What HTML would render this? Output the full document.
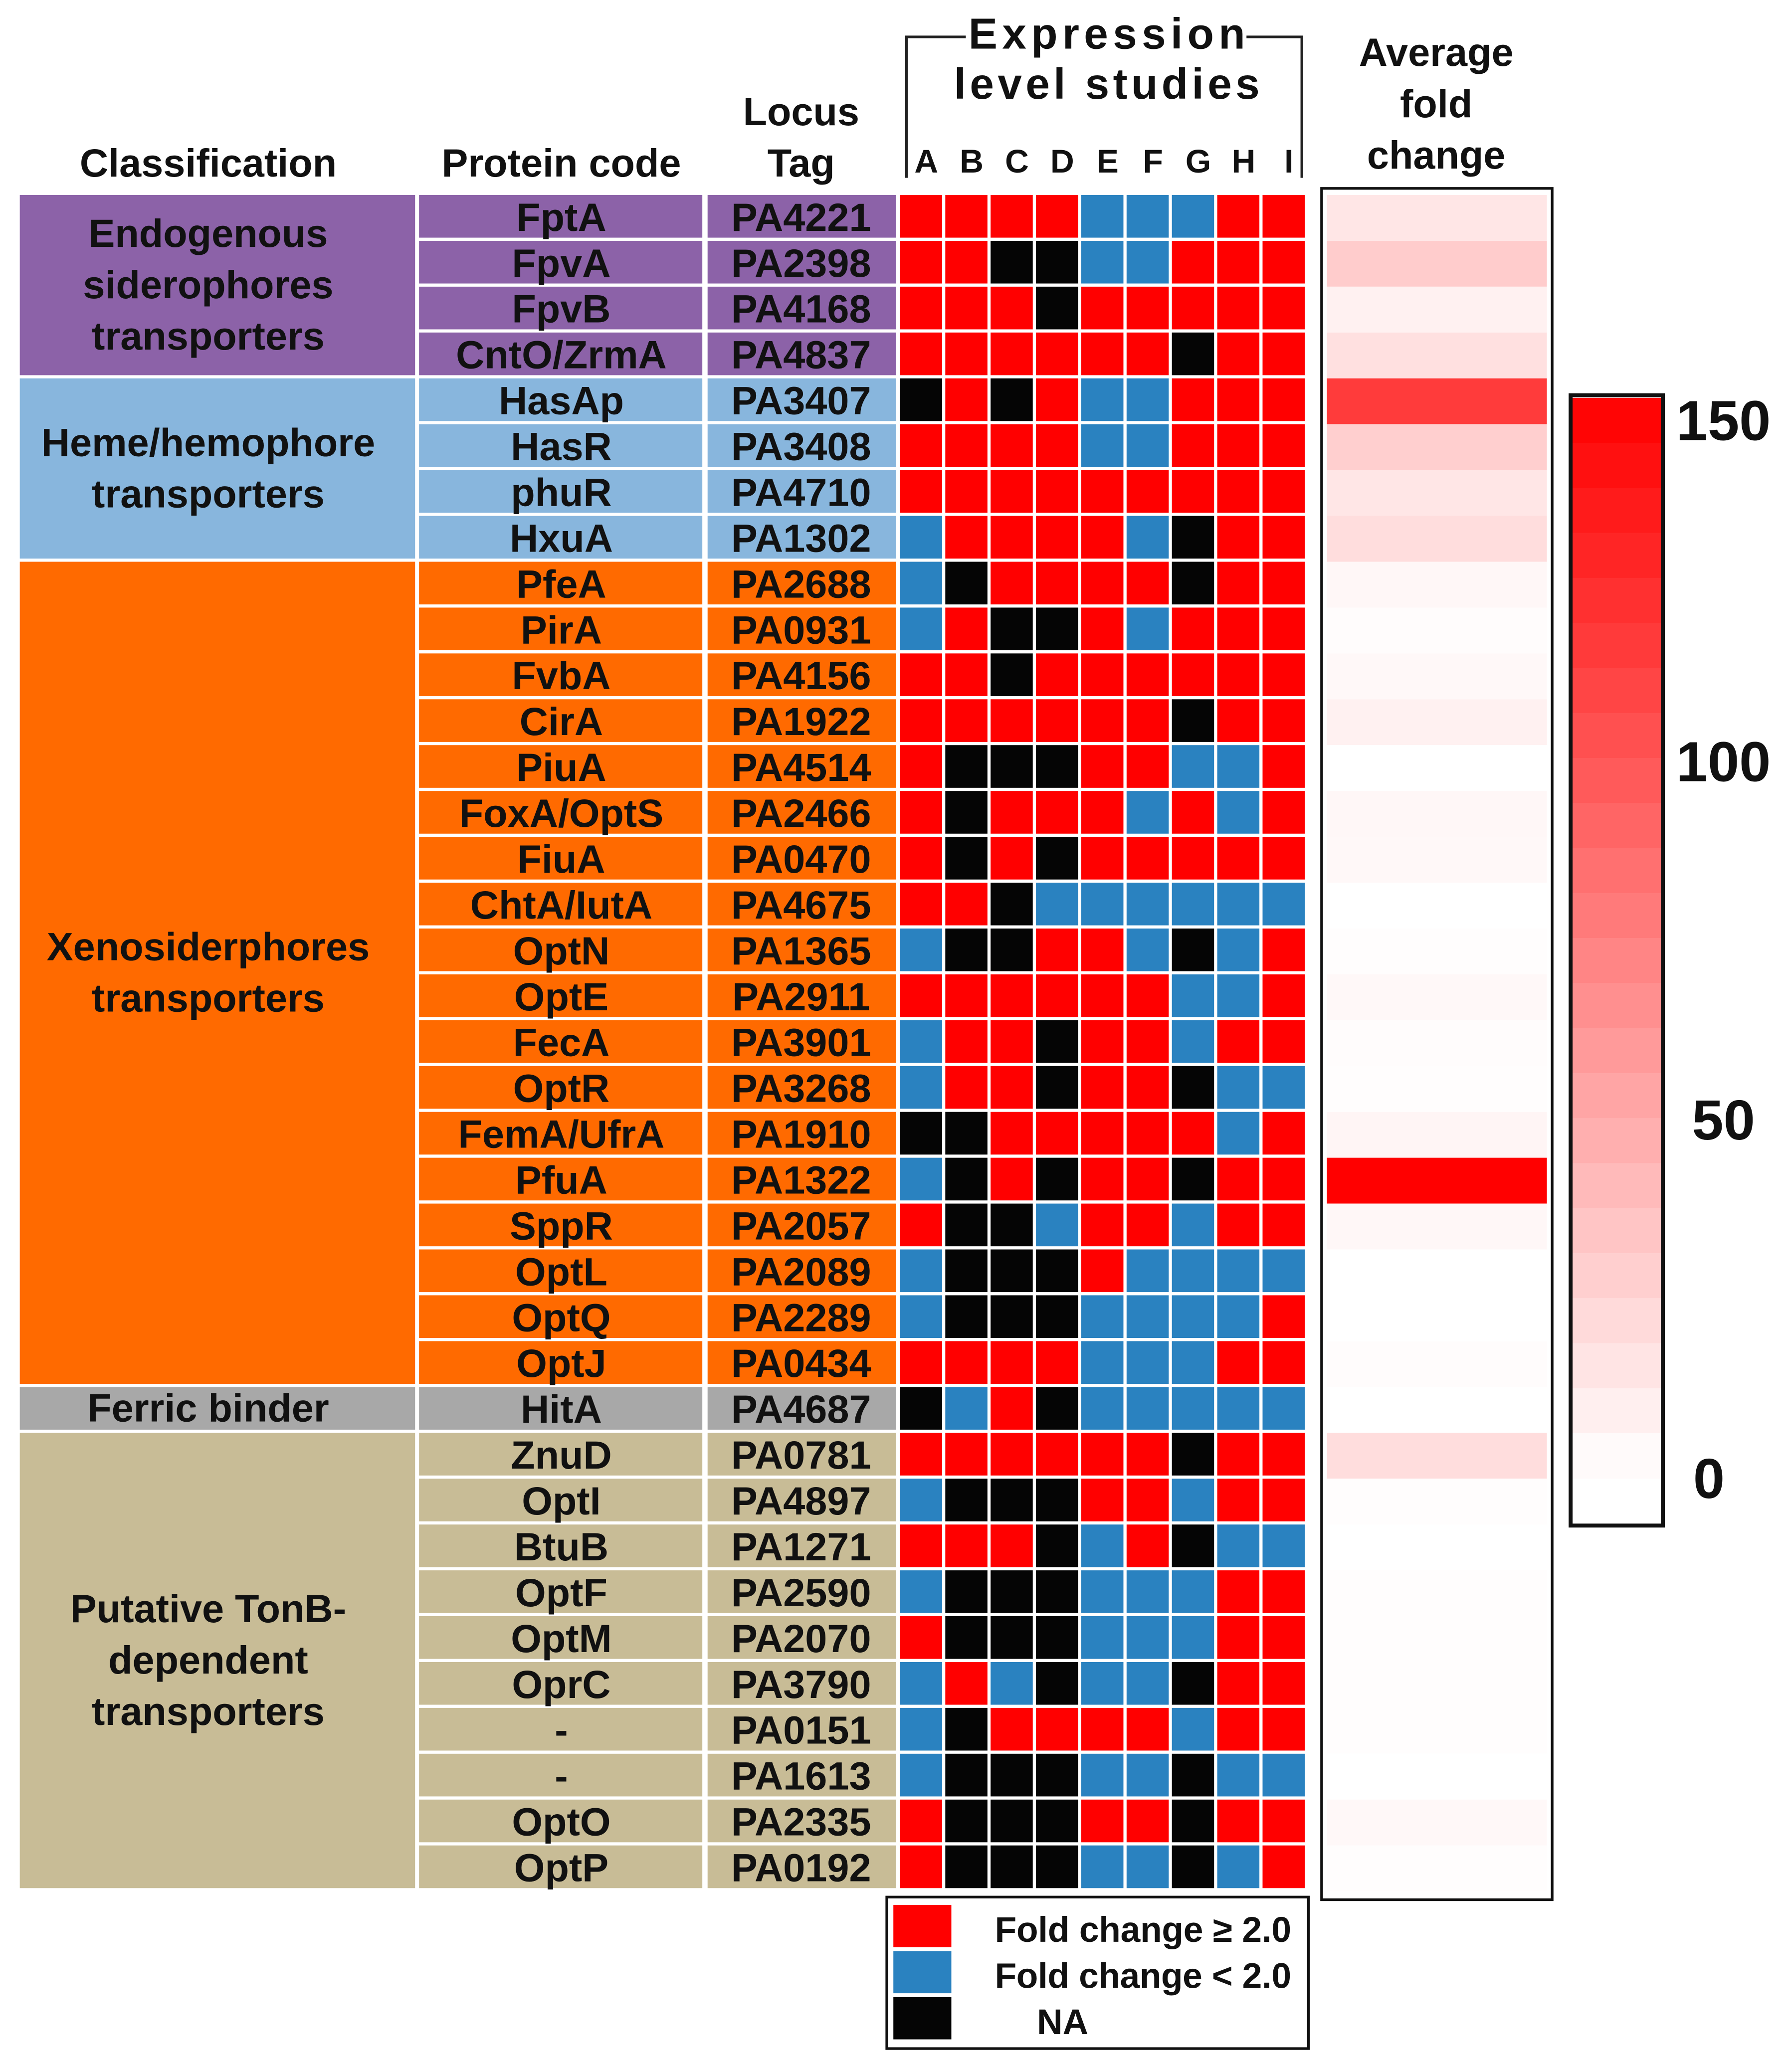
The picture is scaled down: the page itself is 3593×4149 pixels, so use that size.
<!DOCTYPE html>
<html><head><meta charset="utf-8">
<style>
html,body{margin:0;padding:0;background:#fff;}
svg{display:block;}
text{font-family:"Liberation Sans",Arial,sans-serif;font-weight:bold;fill:#111;}
</style></head>
<body>
<svg id="chart" xmlns="http://www.w3.org/2000/svg" width="3593" height="4149" viewBox="0 0 1360 1570.5">
<g id="headers">
<text x="158" y="134" font-size="30" text-anchor="middle">Classification</text>
<text x="426" y="134" font-size="30" text-anchor="middle">Protein code</text>
<text x="608" y="95" font-size="30" text-anchor="middle">Locus</text>
<text x="608" y="134" font-size="30" text-anchor="middle">Tag</text>
<text x="840" y="37" font-size="33" text-anchor="middle" textLength="210">Expression</text>
<text x="840" y="75" font-size="33" text-anchor="middle" textLength="232">level studies</text>
<polyline points="688,135 688,28 733,28" fill="none" stroke="#222" stroke-width="2"/>
<polyline points="946,28 988,28 988,135" fill="none" stroke="#222" stroke-width="2"/>
<text x="1090" y="50" font-size="30" text-anchor="middle">Average</text>
<text x="1090" y="89" font-size="30" text-anchor="middle">fold</text>
<text x="1090" y="128" font-size="30" text-anchor="middle">change</text>
</g>
<g id="classes"></g>
<g id="labels"></g>
<g id="grid"></g>
<g id="studyLetters"></g>
<rect x="1003" y="143" width="175" height="1299" fill="#fff" stroke="#111" stroke-width="2"/>
<g id="avg"></g>
<g id="cbar"></g>
<g id="legend">
<rect x="673" y="1440" width="320" height="115" fill="#fff" stroke="#111" stroke-width="2"/>
<rect x="678" y="1446" width="44" height="32" fill="#ff0000"/>
<rect x="678" y="1481" width="44" height="32" fill="#2a82c0"/>
<rect x="678" y="1516" width="44" height="32" fill="#050505"/>
<text x="755" y="1474" font-size="27" textLength="225">Fold change ≥ 2.0</text>
<text x="755" y="1509" font-size="27" textLength="225">Fold change &lt; 2.0</text>
<text x="787" y="1544" font-size="27">NA</text>
</g>
</svg>
<script>
const proteins = ["FptA","FpvA","FpvB","CntO/ZrmA","HasAp","HasR","phuR","HxuA","PfeA","PirA","FvbA","CirA","PiuA","FoxA/OptS","FiuA","ChtA/IutA","OptN","OptE","FecA","OptR","FemA/UfrA","PfuA","SppR","OptL","OptQ","OptJ","HitA","ZnuD","OptI","BtuB","OptF","OptM","OprC","-","-","OptO","OptP"];
const loci = ["PA4221","PA2398","PA4168","PA4837","PA3407","PA3408","PA4710","PA1302","PA2688","PA0931","PA4156","PA1922","PA4514","PA2466","PA0470","PA4675","PA1365","PA2911","PA3901","PA3268","PA1910","PA1322","PA2057","PA2089","PA2289","PA0434","PA4687","PA0781","PA4897","PA1271","PA2590","PA2070","PA3790","PA0151","PA1613","PA2335","PA0192"];
const studies = ["A","B","C","D","E","F","G","H","I"];
// R = fold change >= 2, B = fold change < 2, K = NA
const status = ["RRRRBBBRR","RRKKBBRRR","RRRKRRRRR","RRRRRRKRR","KRKRBBRRR","RRRRBBRRR","RRRRRRRRR","BRRRRBKRR","BKRRRRKRR","BRKKRBRRR","RRKRRRRRR","RRRRRRKRR","RKKKRRBBR","RKRRRBRBR","RKRKRRRRR","RRKBBBBBB","BKKRRBKBR","RRRRRRBBR","BRRKRRBRR","BRRKRRKBB","KKRRRRRBR","BKRKRRKRR","RKKBRRBRR","BKKKRBBBB","BKKKBBBBR","RRRRBBBRR","KBRKBBBBB","RRRRRRKRR","BKKKRRBRR","RRRKBRKBB","BKKKBBBRR","RKKKBBBRR","BRBKBBKRR","BKRRRRBRR","BKKKBBKBB","RKKKRRKRR","RKKKBBKBR"];
const avgFold = [15,30,8,18,115,28,15,20,5,2,4,8,0,5,4,0,1,4,2,1,6,150,5,0,0,2,0,20,1,0,1,1,1,1,0,4,1];
const classNames = [["Endogenous","siderophores","transporters"],["Heme/hemophore","transporters"],["Xenosiderphores","transporters"],["Ferric binder"],["Putative TonB-","dependent","transporters"]];
const classStart = [0,4,8,26,27];
const classEnd = [4,8,26,27,37];
const classColors = ["#8c62a8","#88b6dd","#ff6a00","#a8a8a8","#c8bc96"];
const cbarTicks = [150,100,50,0];

const NS="http://www.w3.org/2000/svg";
const top0=148, rowH=34.8, gx0=683, colW=34.4, gap=2.4;
const yRow = i => top0 + i*rowH;
const xCol = j => gx0 + j*colW;
const colorOf = {R:"#ff0000",B:"#2a82c0",K:"#050505"};
const fcColor = v => { const g=Math.round(255*(1-Math.max(0,Math.min(150,v))/150)); return `rgb(255,${g},${g})`; };
function mk(tag, attrs, parent){ const e=document.createElementNS(NS,tag); for(const k in attrs) e.setAttribute(k,attrs[k]); parent.appendChild(e); return e; }

const gC=document.getElementById('classes');
classNames.forEach((lines,c)=>{
  const y0=yRow(classStart[c]), y1=yRow(classEnd[c])-gap;
  const r=mk('rect',{x:15,y:y0,width:300,height:y1-y0,fill:classColors[c]},gC);
  
  
  const cy=(y0+y1)/2, lh=39;
  lines.forEach((ln,k)=>{
    const t=mk('text',{x:158,y:cy+(k-(lines.length-1)/2)*lh+10,'font-size':30,'text-anchor':'middle'},gC);
    t.textContent=ln;
    
    
  });
});

const gL=document.getElementById('labels');
function classOfRow(i){ for(let c=0;c<classStart.length;c++) if(i>=classStart[c]&&i<classEnd[c]) return c; return 0; }
proteins.forEach((p,i)=>{
  const y=yRow(i), h=rowH-gap, col=classColors[classOfRow(i)];
  const r1=mk('rect',{x:318,y:y,width:215,height:h,fill:col},gL);
  
  
  const r2=mk('rect',{x:537,y:y,width:143,height:h,fill:col},gL);
  
  
  const t1=mk('text',{x:426,y:y+h/2+11,'font-size':30,'text-anchor':'middle'},gL);
  t1.textContent=p;
  
  
  const t2=mk('text',{x:608,y:y+h/2+11,'font-size':30,'text-anchor':'middle'},gL);
  t2.textContent=loci[i];
  
  
});

const gG=document.getElementById('grid');
status.forEach((row,i)=>{
  row.split('').forEach((s,j)=>{
    const r=mk('rect',{x:xCol(j),y:yRow(i),width:colW-gap,height:rowH-gap,fill:colorOf[s]},gG);
    
    
  });
});
const gS=document.getElementById('studyLetters');
studies.forEach((s,j)=>{
  const t=mk('text',{x:xCol(j)+(colW-gap)/2+4,y:131,'font-size':25,'text-anchor':'middle'},gS);
  t.textContent=s;
  
  
});

const gA=document.getElementById('avg');
avgFold.forEach((v,i)=>{
  const r=mk('rect',{x:1007,y:yRow(i),width:167,height:rowH,fill:fcColor(v)},gA);
  
  
});

const gB=document.getElementById('cbar');
const cbTop=302, cbZero=1122, cbBot=1158;
const yCb = v => cbZero - (cbZero-cbTop)*v/150;
const nSteps=24;
for(let k=0;k<nSteps;k++){
  const v1=150*(nSteps-k)/nSteps, v0=150*(nSteps-k-1)/nSteps;
  const r=mk('rect',{x:1193,y:yCb(v1),width:68,height:yCb(v0)-yCb(v1)+0.5,fill:fcColor((v0+v1)/2)},gB);
  
  
}
const frame=mk('rect',{x:1192,y:300,width:70,height:cbBot-300,fill:'none',stroke:'#111','stroke-width':3},gB);


const tickY={150:334,100:593,50:865,0:1137};
cbarTicks.forEach(v=>{
  const t=mk('text',{x:v===0?1297:1308,y:tickY[v],'font-size':43,'text-anchor':'middle'},gB);
  t.textContent=String(v);
  
  
});
</script>
</body></html>
